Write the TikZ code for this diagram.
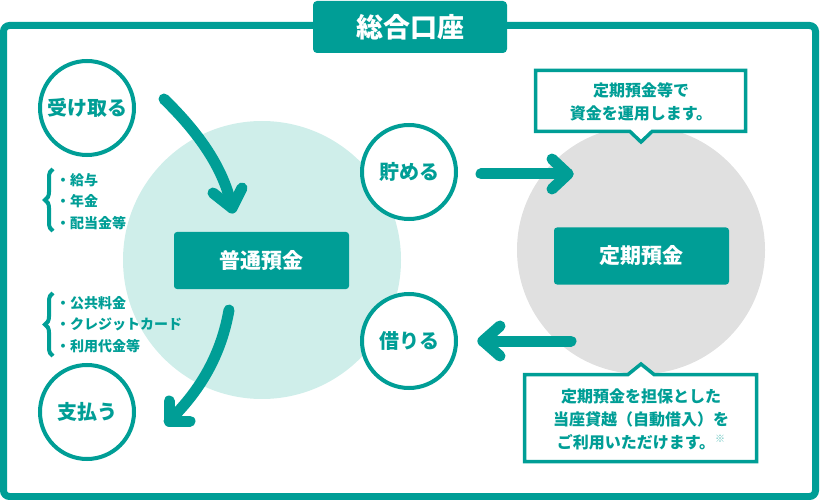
\documentclass[tikz,border=0pt]{standalone}
\usepackage{fontspec}
\setmainfont{Noto Sans CJK JP}
\usetikzlibrary{decorations.pathreplacing}
\definecolor{teal1}{HTML}{009E96}
\definecolor{mint}{HTML}{CFEEEA}
\definecolor{greyc}{HTML}{E0E0E0}
\begin{document}
\begin{tikzpicture}[x=1pt,y=-1pt,
  circlab/.style={circle, draw=teal1, line width=4pt, fill=white, minimum size=94pt, inner sep=0pt, text=teal1, font=\bfseries\fontsize{20}{24}\selectfont},
  bigc/.style={circle, draw=none, inner sep=0pt},
  acct/.style={rectangle, fill=teal1, rounded corners=3pt, minimum width=175pt, minimum height=57pt, inner sep=0pt, text=white, font=\bfseries\fontsize{21}{25}\selectfont},
  flow/.style={draw=teal1, line width=11pt, line cap=round, line join=round},
  listtxt/.style={text=teal1, font=\bfseries\fontsize{14}{21.5}\selectfont, align=left, anchor=west, inner sep=0pt},
  brc/.style={draw=teal1, line width=4pt, decorate, decoration={brace, amplitude=8pt}},
  callout/.style={draw=teal1, line width=3.5pt, fill=white, line join=miter},
  calltxt/.style={text=teal1, font=\bfseries\fontsize{16}{23}\selectfont, align=center, inner sep=0pt},
  frame/.style={draw=teal1, line width=7pt, rounded corners=6pt}
]
\useasboundingbox (0,0) rectangle (820,500);
% outer frame
\draw[frame] (3.5,25.5) rectangle (815.5,496.5);
\node[fill=teal1, rounded corners=4pt, minimum width=194pt, minimum height=52pt, inner sep=0pt, text=white, font=\bfseries\fontsize{27}{30}\selectfont] (title) at (410,27) {総合口座};
% big circles
\node[bigc, fill=mint, minimum size=278pt] (lc) at (262,260) {};
\node[bigc, fill=greyc, minimum size=248pt] (rc) at (641,250) {};
% account boxes
\node[acct] (futsu) at (261.5,260.5) {普通預金};
\node[acct] (teiki) at (641.5,256) {定期預金};
% small circles
\node[circlab] (recv) at (87,108) {受け取る};
\node[circlab] (pay) at (87,412) {支払う};
\node[circlab] (save) at (409,172) {貯める};
\node[circlab] (borrow) at (409,341) {借りる};
% lists and braces
\node[listtxt] (list1) at (56,201.5) {・給与\\・年金\\・配当金等};
\node[listtxt] (list2) at (56,324.5) {・公共料金\\・クレジットカード\\・利用代金等};
\draw[brc] (53,231) -- (53,169);
\draw[brc] (53,356) -- (53,293);
% arrows
\coordinate (a1s) at (164,99);
\coordinate (a1e) at (232,208);
\draw[flow] (a1s) .. controls (198,132) and (224,168) .. (a1e);
\draw[flow] (213,193) -- (a1e) -- (242,188);
\coordinate (a2s) at (229,310);
\coordinate (a2e) at (169,421);
\draw[flow] (a2s) .. controls (222,350) and (204,387) .. (a2e);
\draw[flow] (169,401) -- (a2e) -- (190,421);
\coordinate (a3s) at (481,174);
\coordinate (a3e) at (568,174);
\draw[flow] (a3s) -- (a3e);
\draw[flow] (552,159) -- (a3e) -- (552,189);
\coordinate (a4s) at (571,341);
\coordinate (a4e) at (483,341);
\draw[flow] (a4s) -- (a4e);
\draw[flow] (500,326) -- (a4e) -- (500,356);
% callouts
\draw[callout] (535.5,70.5) -- (745.5,70.5) -- (745.5,131.5) -- (652,131.5) -- (641,142) -- (630,131.5) -- (535.5,131.5) -- cycle;
\node[calltxt] (c1) at (641,102) {定期預金等で\\資金を運用します。};
\draw[callout] (524.5,374.5) -- (628,374.5) -- (641,364) -- (654,374.5) -- (756.5,374.5) -- (756.5,461.5) -- (524.5,461.5) -- cycle;
\node[calltxt] (c2) at (641,419) {定期預金を担保とした\\当座貸越（自動借入）を\\ご利用いただけます。\raisebox{6pt}{\textcolor{teal1!60}{\fontsize{10}{10}\selectfont ※}}};
\end{tikzpicture}
\end{document}
